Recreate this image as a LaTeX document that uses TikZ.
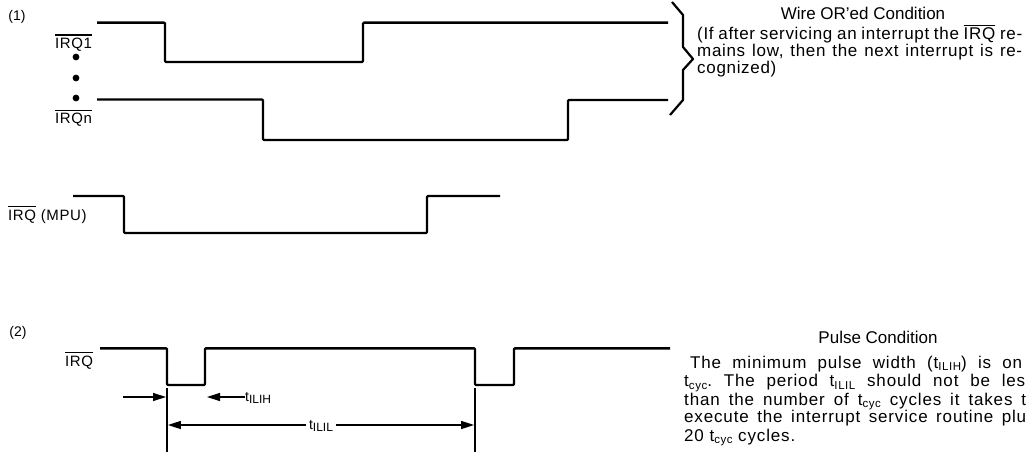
\documentclass[tikz,border=0pt]{standalone}
\usepackage{fontspec}
\setmainfont{Liberation Sans}
\newfontfamily\spaced{Liberation Sans}[LetterSpace=4]
\newfontfamily\spacedb{Liberation Sans}[LetterSpace=5]
\usetikzlibrary{arrows.meta}
\frenchspacing
\newcommand\ovl[1]{\leavevmode\vbox{\hrule height 1.2pt\kern 2.4pt\hbox{#1}}}
\newcommand\psub[1]{\raisebox{-0.3ex}{\fontsize{11.5}{11.5}\selectfont #1}}
\newcommand\dsub[1]{\raisebox{-0.35ex}{\fontsize{12}{12}\selectfont #1}}
\begin{document}
\begin{tikzpicture}[x=1pt,y=-1pt,
  wave/.style={line width=2.4pt, rounded corners=1pt, line join=round},
  brace/.style={line width=2.2pt, line join=round},
  ext/.style={line width=1.8pt},
  dim/.style={line width=1.3pt},
  arr/.style={dim, -{Triangle[length=13pt,width=8pt]}},
  darr/.style={dim, {Triangle[length=13pt,width=8pt]}-{Triangle[length=13pt,width=8pt]}},
  lbl/.style={inner sep=0pt, font=\spaced\fontsize{15}{17}\selectfont},
  sml/.style={inner sep=0pt, font=\fontsize{14}{16}\selectfont},
  ttl/.style={inner sep=0pt, font=\fontsize{17}{19}\selectfont},
  para/.style={inner sep=0pt, anchor=base west, font=\spaced\fontsize{17}{19}\selectfont\frenchspacing},
  parb/.style={inner sep=0pt, anchor=base west, font=\spacedb\fontsize{17}{19}\selectfont\frenchspacing},
  dot/.style={circle, fill=black, inner sep=0pt, minimum size=6.8pt}
]
\path[fill=white, use as bounding box] (0,0) rectangle (1026,468);

% ---------- part (1)
\node[sml] (n1) at (17,16.5) {(1)};
\node[lbl, anchor=base west] (irq1) at (55,48.5) {\ovl{IRQ1}};
\node[lbl, anchor=base west] (irqn) at (55,124) {\ovl{IRQn}};
\node[dot] (d1) at (76,57) {};
\node[dot] (d2) at (76,78) {};
\node[dot] (d3) at (76,98) {};

\draw[wave] (97,22.7) -- (165,22.7) -- (165,62) -- (363,62) -- (363,22.7) -- (668,22.7);
\draw[wave] (97,99.5) -- (263,99.5) -- (263,140) -- (568,140) -- (568,100) -- (668,100);

\draw[brace] (672,2) -- (683,15) -- (683,47) -- (693,59) -- (683,70) -- (683,100) -- (670,115);

\node[ttl, anchor=base] (wt) at (863,20) {Wire OR'ed Condition};
\node[para] (w1) at (697,40) {\makebox[325pt][s]{(If after servicing an interrupt the \ovl{IRQ} re-}};
\node[para] (w2) at (697,57) {\makebox[325pt][s]{mains low, then the next interrupt is re-}};
\node[para] (w3) at (697,74) {cognized)};

\node[lbl, anchor=base west] (mpu) at (8,220) {\ovl{IRQ} (MPU)};
\draw[wave] (73,196) -- (124,196) -- (124,233) -- (427,233) -- (427,196) -- (500,196);

% ---------- part (2)
\node[sml] (n2) at (18,333) {(2)};
\node[lbl, anchor=base west] (irq) at (65,366) {\ovl{IRQ}};
\draw[wave] (100,348.3) -- (167,348.3) -- (167,385) -- (205,385) -- (205,348.3) -- (475,348.3)
  -- (475,385) -- (514,385) -- (514,348.3) -- (670,348.3);

\coordinate (la) at (123,397);
\coordinate (lt) at (166,397);
\draw[arr] (la) -- (lt);
\node[sml, anchor=west] (tilih) at (245,398) {t\dsub{ILIH}};
\coordinate (rt) at (207,397);
\draw[arr] (tilih.west |- la) -- (rt);

\coordinate (e1t) at (167,388);
\coordinate (e1b) at (167,452);
\coordinate (e2t) at (475,388);
\coordinate (e2b) at (475,452);
\draw[ext] (e1t) -- (e1b);
\draw[ext] (e2t) -- (e2b);
\coordinate (m1) at (167.9,425);
\coordinate (m2) at (474.1,425);
\draw[darr] (m1) -- (m2);
\node[sml, fill=white, inner xsep=3pt, inner ysep=2pt] (tilil) at (321,426) {t\dsub{ILIL}};

\node[ttl, anchor=base] (pt) at (878,343) {Pulse Condition};
\node[parb] (p1) at (690,368) {\makebox[332pt][s]{The minimum pulse width (t\psub{ILIH}) is on}};
\node[parb] (p2) at (684,386.5) {\makebox[341pt][s]{t\psub{cyc}. The period t\psub{ILIL} should not be les}};
\node[parb] (p3) at (684,405) {\makebox[342pt][s]{than the number of t\psub{cyc} cycles it takes t}};
\node[parb] (p4) at (684,422.5) {\makebox[342pt][s]{execute the interrupt service routine plu}};
\node[parb] (p5) at (684,441) {20 t\psub{cyc} cycles.};
\end{tikzpicture}
\end{document}
